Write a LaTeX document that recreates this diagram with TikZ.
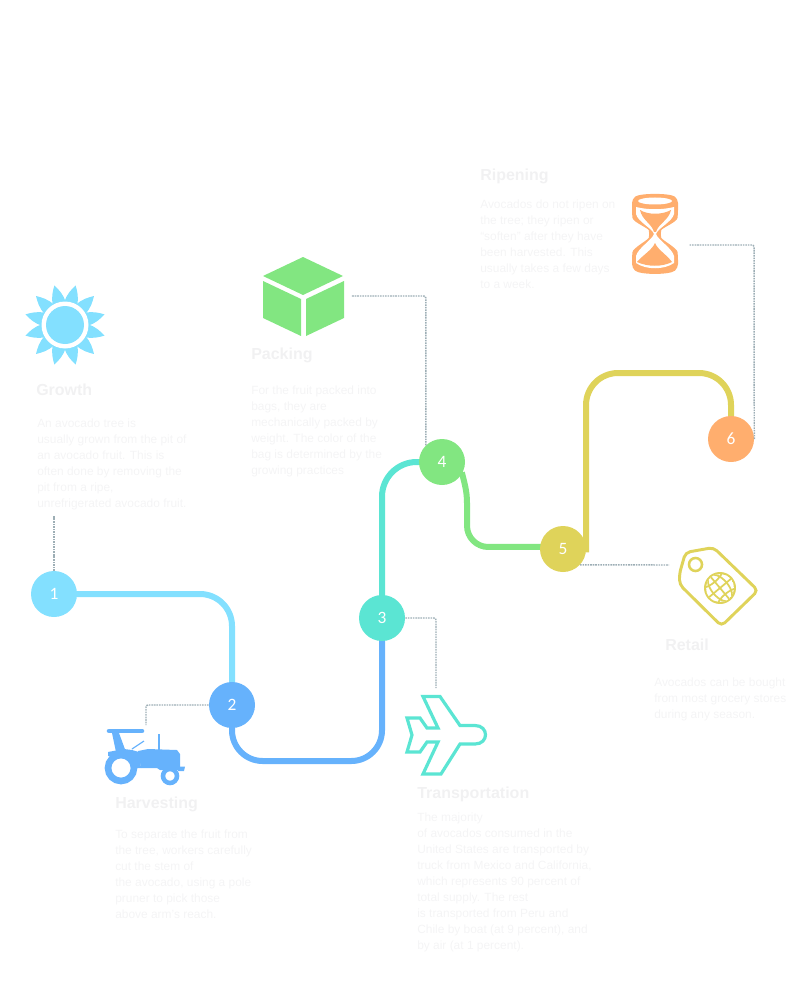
\documentclass[tikz,border=0pt]{standalone}
\usepackage{fontspec}
\setmainfont{Liberation Sans}
\newfontfamily\numfont{Carlito}
\usetikzlibrary{backgrounds}
\definecolor{growthcol}{HTML}{83E0FF}
\definecolor{harvestcol}{HTML}{66B2FC}
\definecolor{transportcol}{HTML}{5BE5D3}
\definecolor{packcol}{HTML}{82E681}
\definecolor{retailcol}{HTML}{DFD35A}
\definecolor{ripencol}{HTML}{FFAE6E}
\definecolor{faintcol}{HTML}{F1F1F2}
\definecolor{fainttext}{HTML}{F4F4F5}
\definecolor{leadcol}{HTML}{9DAEB5}
\tikzset{
  stage/.style={circle,fill=#1,minimum size=34.5pt,inner sep=0pt,text=white,font=\numfont\fontsize{13}{14}\selectfont},
  track/.style={line width=4.5pt,draw=#1,shorten >=-1pt,shorten <=-1pt},
  lead/.style={leadcol,line width=1.1pt,dash pattern=on 1.2pt off 0.7pt,rounded corners=1.5pt},
  heading/.style={anchor=base west,inner sep=0pt,text=faintcol,font=\bfseries\fontsize{12}{14}\selectfont},
  blurb/.style={anchor=north west,inner sep=0pt,align=left,text=fainttext,font=\fontsize{8.95}{12}\selectfont},
}
\begin{document}
\begin{tikzpicture}[x=0.75pt,y=-0.75pt]
\useasboundingbox (0,0) rectangle (800,991);
% stages
\node[stage=growthcol] (n1) at (54,594) {1};
\node[stage=harvestcol] (n2) at (232,705) {2};
\node[stage=transportcol] (n3) at (382,618) {3};
\node[stage=packcol] (n4) at (442,462) {4};
\node[stage=retailcol] (n5) at (563,549) {5};
\node[stage=ripencol] (n6) at (731,439) {6};
% free ends of the leaders
\coordinate (growthend) at (54,516);
\coordinate (harvestend) at (146,725);
\coordinate (planeend) at (436,688);
\coordinate (boxend) at (351,296);
\coordinate (tagend) at (669,565);
\coordinate (glassend) at (689,245);
% tracks
\begin{scope}[on background layer]
\draw[track=growthcol,rounded corners=24pt] (n1.east) -- (232,594) -- (n2.north);
\draw[track=harvestcol,rounded corners=23pt] (n2.south) -- (232,761) -- (382,761) -- (n3.south);
\draw[track=transportcol,rounded corners=26pt] (n3.north) -- (382,462) -- (n4.west);
\draw[track=packcol] (n4.-30) .. controls (464,482) and (467,490) .. (467,503)
  [rounded corners=16pt] -- (467,547) -- (n5.175);
\draw[track=retailcol,rounded corners=24pt] (n5.-5) -- (586,373) -- (731,373) -- (n6.north);
\end{scope}
% leaders
\draw[lead] (n1.north) -- (growthend);
\draw[lead] (n2.west) -| (harvestend);
\draw[lead] (n3.east) -| (planeend);
\draw[lead] (n4.134) |- (boxend);
\draw[lead] (n5.-43) -- (tagend);
\draw[lead] (n6.east) -- (754,245) -- (glassend);
% sun
\foreach \a in {45,75,...,375} {
  \begin{scope}[shift={(65,325)},rotate=\a]
  \fill[growthcol] (22,-6.5) .. controls (30,-6.5) and (36,-3) .. (41,0)
    .. controls (36,3) and (30,6.5) .. (22,6.5) -- cycle;
  \end{scope}
}
\fill[white] (65,325) circle[radius=23.5];
\fill[growthcol] (65,325) circle[radius=19];
% box
\fill[packcol] (303,257) -- (343,276) -- (303,295) -- (263,276) -- cycle;
\fill[packcol] (263,281) -- (301,299) -- (301,336) -- (263,318) -- cycle;
\fill[packcol] (306,299) -- (344,281) -- (344,318) -- (306,336) -- cycle;
% hourglass
\fill[ripencol,rounded corners=3pt] (632,199) .. controls (640,193) and (670,193) .. (678,199)
  -- (678,214) .. controls (677,222) and (662,228) .. (660,234)
  .. controls (662,240) and (677,248) .. (678,256) -- (678,268)
  .. controls (670,275) and (640,275) .. (632,268) -- (632,256)
  .. controls (633,248) and (648,240) .. (650,234)
  .. controls (648,228) and (633,222) .. (632,214) -- cycle;
\fill[white] (655,201) ellipse[x radius=17,y radius=3.5];
\fill[white] (636,207) .. controls (648,210) and (662,210) .. (674,207)
  -- (674,214) .. controls (672,222) and (658,228) .. (656,234)
  .. controls (658,240) and (672,248) .. (674,256) -- (674,263)
  .. controls (664,270) and (646,270) .. (636,263) -- (636,256)
  .. controls (638,248) and (652,240) .. (654,234)
  .. controls (652,228) and (638,222) .. (636,214) -- cycle;
\fill[ripencol] (640,210) .. controls (648,215) and (662,215) .. (671,210)
  .. controls (669,220) and (658,224) .. (656,232) -- (654,232)
  .. controls (652,224) and (642,220) .. (640,210) -- cycle;
\fill[ripencol] (655,243) .. controls (658,250) and (666,254) .. (672,262)
  .. controls (662,267) and (648,267) .. (637,262)
  .. controls (644,254) and (652,250) .. (655,243) -- cycle;
% tag
\draw[retailcol,line width=2.2pt,rounded corners=3.5pt] (685.5,552.5) -- (713.5,547.5) -- (758,590.5)
  -- (721.5,626) -- (679.5,584.5) -- (679.5,573.5) -- cycle;
\draw[retailcol,line width=1.9pt] (695.5,564.5) circle[radius=6.5];
\begin{scope}[shift={(720,588)},rotate=40]
\fill[retailcol] (0,0) circle[radius=16];
\clip (0,0) circle[radius=14];
\fill[white] (0,0) circle[radius=14];
\draw[retailcol,line width=1.3pt] (0,0) ellipse[x radius=8.5,y radius=16];
\draw[retailcol,line width=1.3pt] (0,-16) -- (0,16);
\draw[retailcol,line width=1.3pt] (-16,0) -- (16,0);
\draw[retailcol,line width=1.3pt] (0,-20) ellipse[x radius=20,y radius=12];
\draw[retailcol,line width=1.3pt] (0,20) ellipse[x radius=20,y radius=12];
\end{scope}
% plane
\draw[transportcol,line width=2.4pt,line join=miter] (460,725.5) -- (440,696.5) -- (423,696.5) -- (438,728)
  -- (427,728) -- (420,718) -- (407,718) -- (412,735) -- (407,752) -- (420,752)
  -- (427,742) -- (438,742) -- (423,774) -- (441,774) -- (460,744)
  -- (475,744) .. controls (489,744) and (489,725.5) .. (475,725.5) -- cycle;
% tractor
\draw[harvestcol,line width=3.4pt,line cap=round] (109,731) -- (142,731);
\fill[harvestcol] (112,733) -- (119,733) -- (126,752) -- (116,752) -- cycle;
\fill[harvestcol] (108,752) -- (124,749) -- (132,750) -- (139,752) -- (141,768) -- (136,768) -- (132,758) -- (108,756) -- cycle;
\fill[harvestcol] (138,751) -- (148,749) -- (177,750) -- (180,754) -- (180,770) -- (160,770)
  -- (157,768) -- (141,768) -- cycle;
\fill[harvestcol] (178,766.5) -- (185,766.5) -- (184,771) -- (178,771) -- cycle;
\fill[harvestcol] (158,734) rectangle (160,750);
\draw[harvestcol,line width=0.9pt] (132,749) -- (144,741);
\draw[harvestcol,line width=5pt] (121,768) circle[radius=13];
\draw[harvestcol,line width=3.4pt] (170,776) circle[radius=7];
% labels
\node[heading] (growthtitle) at (36,395) {Growth};
\node[blurb] (growthtext) at (37,419) {An avocado tree is\\usually grown from the pit of\\an avocado fruit. This is\\often done by removing the\\pit from a ripe,\\unrefrigerated avocado fruit.};
\node[heading] (harvesttitle) at (115,808) {Harvesting};
\node[blurb] (harvesttext) at (115,830) {To separate the fruit from\\the tree, workers carefully\\cut the stem of\\the avocado, using a pole\\pruner to pick those\\above arm's reach.};
\node[heading] (planetitle) at (417,798) {Transportation};
\node[blurb] (planetext) at (417,813) {The majority\\of avocados consumed in the\\United States are transported by\\truck from Mexico and California,\\which represents 90 percent of\\total supply. The rest\\is transported from Peru and\\Chile by boat (at 9 percent), and\\by air (at 1 percent).};
\node[heading] (boxtitle) at (251,359) {Packing};
\node[blurb] (boxtext) at (251,386) {For the fruit packed into\\bags, they are\\mechanically packed by\\weight. The color of the\\bag is determined by the\\growing practices};
\node[heading] (glasstitle) at (480,181) {Ripening};
\node[blurb] (glasstext) at (480,200) {Avocados do not ripen on\\the tree; they ripen or\\“soften” after they have\\been harvested. This\\usually takes a few days\\to a week.};
\node[heading] (tagtitle) at (665,650) {Retail};
\node[blurb] (tagtext) at (654,678) {Avocados can be bought\\from most grocery stores\\during any season.};
\end{tikzpicture}
\end{document}
